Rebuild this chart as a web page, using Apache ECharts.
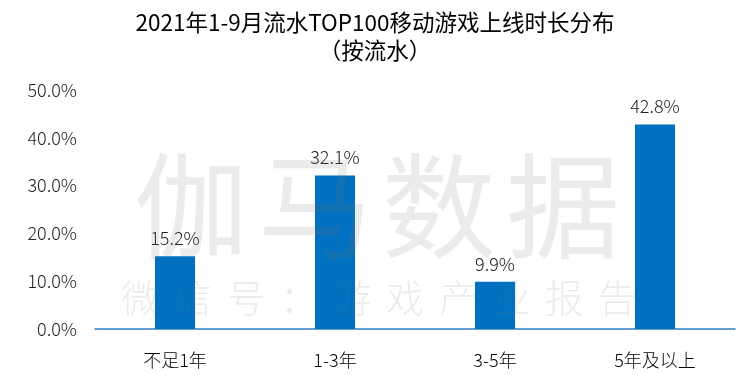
<!DOCTYPE html>
<html>
<head>
<meta charset="utf-8">
<script src="https://cdn.jsdelivr.net/npm/echarts@6/dist/echarts.min.js"></script>
<style>
  html, body { margin: 0; padding: 0; background: #fff; }
  #chart { width: 750px; height: 375px; }
</style>
</head>
<body>
<div id="chart"></div>
<script>
const categories = ['不足1年', '1-3年', '3-5年', '5年及以上']
const shares = [15.2, 32.1, 9.9, 42.8]
const titleText = '2021年1-9月流水TOP100移动游戏上线时长分布\n（按流水）'
const watermarkMain = '伽马数据'
const watermarkSub = '微信号：游戏产业报告'

const font = '"Noto Sans CJK SC", "Noto Sans", sans-serif'
const chart = echarts.init(document.getElementById('chart'))

const wmFill = 'rgba(120,120,120,0.15)'
// watermark: one text element per character, spaced evenly
const watermark = []
watermarkMain.split('').forEach((ch, i) => {
  watermark.push({
    type: 'text', left: 134 + i * 124, top: 149, z: 100,
    style: { text: ch, fontFamily: font, fontSize: 114, fontWeight: 'normal', fill: wmFill }
  })
})
watermarkSub.split('').forEach((ch, i) => {
  watermark.push({
    type: 'text', left: 121 + i * 53, top: 279, z: 100,
    style: { text: ch, fontFamily: font, fontSize: 38, fontWeight: 300, fill: wmFill }
  })
})

chart.setOption({
  backgroundColor: '#fff',
  animation: false,
  title: {
    text: titleText,
    left: 'center',
    top: 3,
    textStyle: {
      fontFamily: font,
      fontSize: 22.5,
      fontWeight: 'normal',
      color: '#000',
      lineHeight: 28
    }
  },
  grid: { left: 95, right: 15, top: 90, bottom: 46 },
  xAxis: {
    type: 'category',
    data: categories,
    axisLine: { lineStyle: { color: '#2f80c0', width: 1.5 } },
    axisTick: { show: false },
    axisLabel: { fontFamily: font, fontSize: 18, fontWeight: 300, color: '#000', margin: 22 }
  },
  yAxis: {
    type: 'value',
    min: 0,
    max: 50,
    interval: 10,
    axisLine: { show: false },
    axisTick: { show: false },
    splitLine: { show: false },
    axisLabel: {
      fontFamily: font,
      fontSize: 18,
      fontWeight: 300,
      color: '#222',
      margin: 18,
      formatter: v => v.toFixed(1) + '%'
    }
  },
  series: [{
    type: 'bar',
    data: shares,
    barWidth: 40,
    itemStyle: { color: '#0070c0' },
    label: {
      show: true,
      position: 'top',
      distance: 9,
      fontFamily: font,
      fontSize: 18,
      fontWeight: 300,
      color: '#222',
      formatter: p => p.value.toFixed(1) + '%'
    }
  }],
  graphic: watermark
})
</script>
</body>
</html>
